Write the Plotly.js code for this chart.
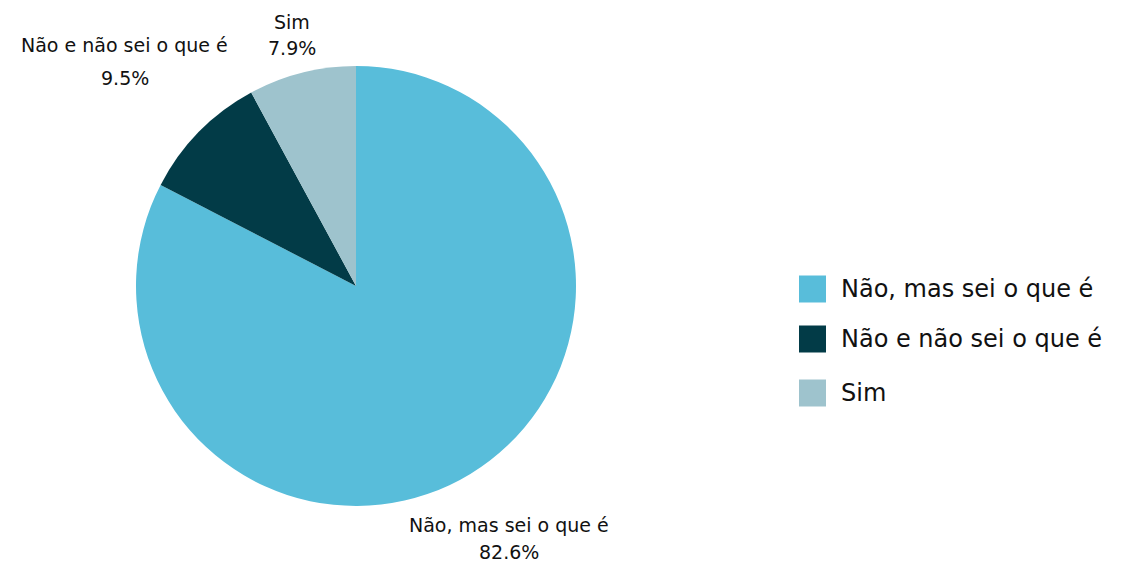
<!DOCTYPE html>
<html>
<head>
<meta charset="utf-8">
<script src="https://cdn.plot.ly/plotly-3.0.1.min.js"></script>
<style>html,body{margin:0;padding:0;background:#fff;}#chart{width:1132px;height:564px;}</style>
</head>
<body>
<div id="chart"></div>
<script>
const categories = ["Não, mas sei o que é", "Não e não sei o que é", "Sim"];
const values = [82.6, 9.5, 7.9];
const colors = ["#58BDDA", "#023B47", "#9EC3CD"];

const W = 1132, H = 564;
const cx = 356, cy = 286, r = 220;
const fontFam = "'DejaVu Sans', sans-serif";

const trace = {
  type: "pie",
  labels: categories,
  values: values,
  sort: false,
  direction: "clockwise",
  rotation: 0,
  marker: {colors: colors, line: {width: 0}},
  textinfo: "none",
  hoverinfo: "label+percent",
  showlegend: false,
  automargin: false,
  domain: {x: [(cx - r) / W, (cx + r) / W], y: [1 - (cy + r) / H, 1 - (cy - r) / H]}
};

const total = values.reduce((a, b) => a + b, 0);
const shapes = [], annotations = [];

// outside data labels (label line + percent line)
const labelPos = [
  {x: 509, y1: 525, y2: 552},
  {x: 125, y1: 45, y2: 78},
  {x: 292, y1: 22, y2: 48}
];
categories.forEach((c, i) => {
  const p = labelPos[i];
  const pct = (values[i] / total * 100).toFixed(1) + "%";
  annotations.push({xref: "paper", yref: "paper", x: p.x / W, y: 1 - p.y1 / H,
    xanchor: "center", yanchor: "middle", showarrow: false, text: c, borderpad: 0,
    font: {size: 19, color: "#111", family: fontFam}});
  annotations.push({xref: "paper", yref: "paper", x: p.x / W, y: 1 - p.y2 / H,
    xanchor: "center", yanchor: "middle", showarrow: false, text: pct, borderpad: 0,
    font: {size: 19, color: "#111", family: fontFam}});
});

// custom legend built from categories / colors
const legX0 = 799, legSize = 27, legYs = [289, 339, 393];
categories.forEach((c, i) => {
  const yc = legYs[i];
  shapes.push({type: "rect", xref: "paper", yref: "paper",
    x0: legX0 / W, x1: (legX0 + legSize) / W,
    y0: 1 - (yc + legSize / 2) / H, y1: 1 - (yc - legSize / 2) / H,
    fillcolor: colors[i], line: {width: 0}});
  annotations.push({xref: "paper", yref: "paper", x: 839 / W, y: 1 - yc / H,
    xanchor: "left", yanchor: "middle", showarrow: false, text: c,
    font: {size: 24, color: "#111", family: fontFam}});
});

const layout = {
  width: W, height: H,
  margin: {l: 0, r: 0, t: 0, b: 0},
  paper_bgcolor: "#fff",
  showlegend: false,
  shapes: shapes,
  annotations: annotations
};
Plotly.newPlot("chart", [trace], layout, {displayModeBar: false, responsive: false});
</script>
</body>
</html>
